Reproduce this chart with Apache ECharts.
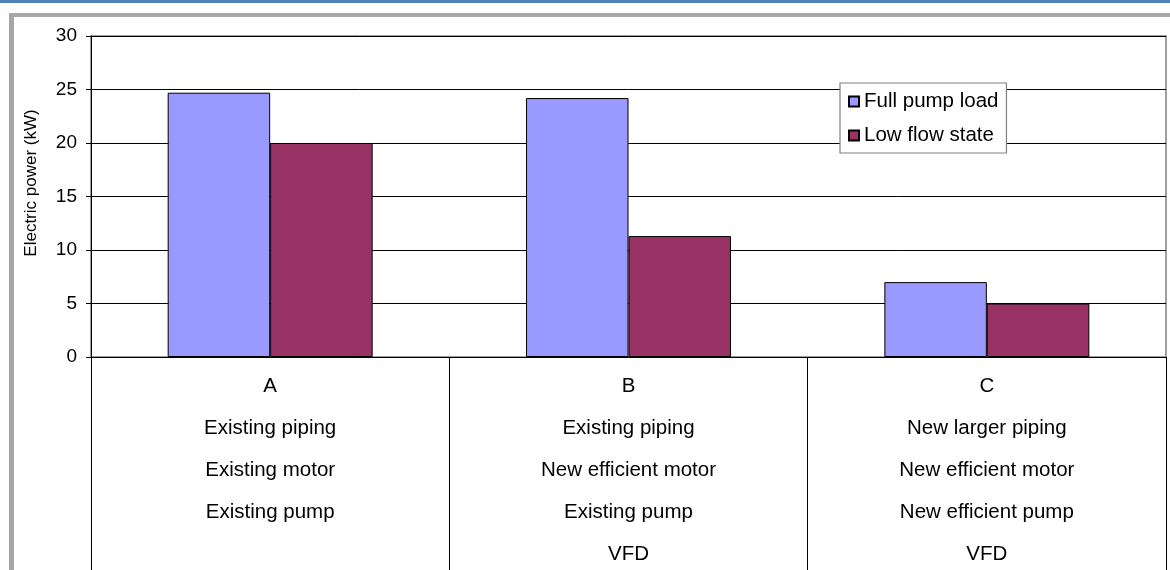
<!DOCTYPE html>
<html>
<head>
<meta charset="utf-8">
<title>Electric power by pumping option</title>
<script src="https://cdn.jsdelivr.net/npm/echarts@6/dist/echarts.min.js"></script>
<style>
  html, body { margin: 0; padding: 0; background: #ffffff; }
  #chart { width: 1170px; height: 570px; }
</style>
</head>
<body>
<div id="chart"></div>
<script>
// Pumping options (first line) and what each option consists of
const categories = ['A', 'B', 'C'];
const optionDetails = [
  ['Existing piping', 'Existing motor', 'Existing pump'],
  ['Existing piping', 'New efficient motor', 'Existing pump', 'VFD'],
  ['New larger piping', 'New efficient motor', 'New efficient pump', 'VFD']
];

// Electric power, kW
const seriesNames = ['Full pump load', 'Low flow state'];
const fullPumpLoad = [24.7, 24.2, 7.0];
const lowFlowState = [20.0, 11.3, 5.0];

// Value axis
const yMin = 0;
const yMax = 30;
const yStep = 5;
const yTitle = 'Electric power (kW)';

const FONT = '"Liberation Sans", Arial, sans-serif';

const categoryLabels = categories.map((c, i) => [c].concat(optionDetails[i]).join('\n'));

const chart = echarts.init(document.getElementById('chart'), null, { renderer: 'canvas' });

chart.setOption({
  animation: false,
  backgroundColor: '#ffffff',
  textStyle: { fontFamily: FONT, color: '#000' },
  grid: {
    left: 91, right: 4, top: 36, bottom: 213,
    outerBoundsMode: 'none',
    containLabel: false,
    show: true,
    borderColor: '#808080',
    borderWidth: 1.5,
    backgroundColor: 'transparent'
  },
  legend: {
    orient: 'vertical',
    left: 840,
    top: 83,
    padding: [8, 8, 7, 8],
    itemGap: 13,
    itemWidth: 10,
    itemHeight: 10,
    backgroundColor: '#ffffff',
    borderColor: '#808080',
    borderWidth: 1.2,
    icon: 'rect',
    textStyle: { fontFamily: FONT, fontSize: 20.5, color: '#000' },
    data: seriesNames
  },
  xAxis: {
    type: 'category',
    data: categoryLabels,
    boundaryGap: true,
    axisLine: { show: true, lineStyle: { color: '#000', width: 1 } },
    axisTick: {
      show: true,
      inside: false,
      length: 213,
      interval: 0,
      alignWithLabel: false,
      lineStyle: { color: '#000', width: 1 }
    },
    axisLabel: {
      interval: 0,
      margin: 8,
      fontFamily: FONT,
      fontSize: 20.5,
      lineHeight: 42,
      color: '#000',
      align: 'center'
    },
    splitLine: { show: false }
  },
  yAxis: {
    type: 'value',
    min: yMin,
    max: yMax,
    interval: yStep,
    axisLine: { show: true, lineStyle: { color: '#000', width: 1 } },
    axisTick: { show: true, inside: false, length: 5, lineStyle: { color: '#000', width: 1 } },
    axisLabel: { margin: 14, fontFamily: FONT, fontSize: 19, color: '#000' },
    splitLine: { show: true, lineStyle: { color: '#000', width: 1 } }
  },
  series: [
    {
      name: seriesNames[0],
      type: 'bar',
      data: fullPumpLoad,
      barWidth: '28.6%',
      barGap: '0%',
      itemStyle: { color: '#9999ff', borderColor: '#000', borderWidth: 1 }
    },
    {
      name: seriesNames[1],
      type: 'bar',
      data: lowFlowState,
      barWidth: '28.6%',
      barGap: '0%',
      itemStyle: { color: '#993366', borderColor: '#000', borderWidth: 1 }
    }
  ],
  graphic: [
    // page header band and chart frame
    { type: 'rect', shape: { x: 0, y: 0, width: 1170, height: 3 }, style: { fill: '#4f81bd' }, silent: true },
    { type: 'rect', shape: { x: 9, y: 13, width: 1161, height: 4 }, style: { fill: '#a6a6a6' }, silent: true },
    { type: 'rect', shape: { x: 9, y: 13, width: 5, height: 557 }, style: { fill: '#a6a6a6' }, silent: true },
    // value axis title
    {
      type: 'text',
      x: 31,
      y: 183,
      rotation: Math.PI / 2,
      style: {
        text: yTitle,
        fontFamily: FONT,
        fontSize: 17,
        fill: '#000',
        textAlign: 'center',
        textVerticalAlign: 'middle'
      },
      silent: true
    }
  ]
});
</script>
</body>
</html>
